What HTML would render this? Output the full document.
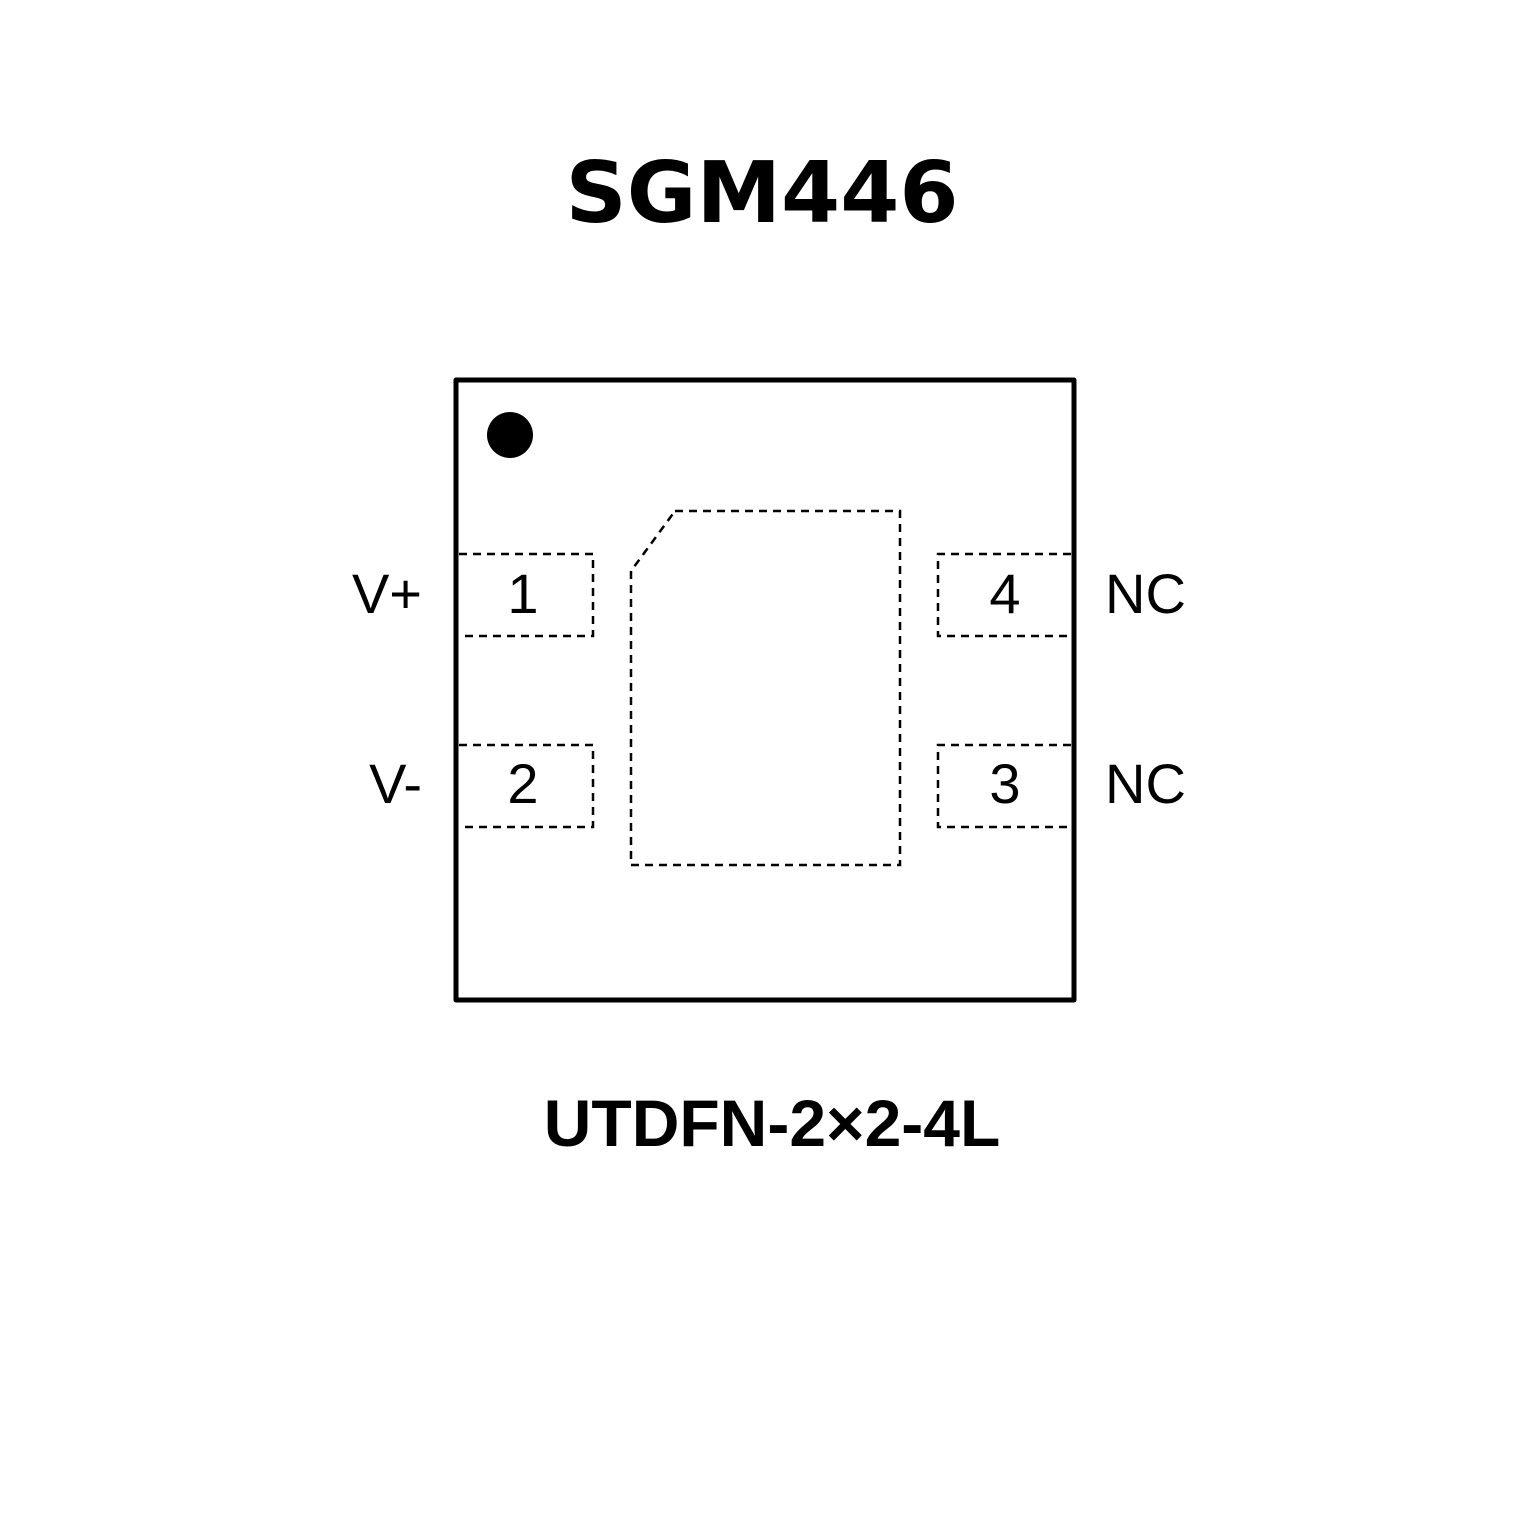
<!DOCTYPE html>
<html><head><style>html,body{margin:0;padding:0;background:#fff}</style></head>
<body>
<svg width="1535" height="1535" viewBox="0 0 1535 1535" xmlns="http://www.w3.org/2000/svg">
<rect width="1535" height="1535" fill="#fff"/>
<text x="762" y="222" text-anchor="middle" font-family="DejaVu Sans, Liberation Sans, sans-serif" font-weight="bold" font-size="85">SGM446</text>
<rect x="456" y="380" width="618" height="620" fill="none" stroke="#000" stroke-width="5" stroke-linejoin="round"/>
<circle cx="510" cy="435" r="23" fill="#000"/>
<g fill="none" stroke="#000" stroke-width="2.5" stroke-dasharray="8,6">
<polyline points="459,554 593,554 593,636 459,636"/>
<polyline points="459,745 593,745 593,827 459,827"/>
<polyline points="1071,554 938,554 938,636 1071,636"/>
<polyline points="1071,745 938,745 938,827 1071,827"/>
<polygon points="675,511 900,511 900,865 631,865 631,571"/>
</g>
<g font-family="Liberation Sans, sans-serif" font-size="56">
<text x="523" y="613" text-anchor="middle">1</text>
<text x="523" y="803" text-anchor="middle">2</text>
<text x="1005" y="613" text-anchor="middle">4</text>
<text x="1005" y="803" text-anchor="middle">3</text>
<text x="422" y="613" text-anchor="end">V+</text>
<text x="422" y="803" text-anchor="end">V-</text>
<text x="1105" y="613">NC</text>
<text x="1105" y="803">NC</text>
</g>
<text x="772" y="1146" text-anchor="middle" font-family="Liberation Sans, sans-serif" font-weight="bold" font-size="66">UTDFN-2×2-4L</text>
</svg>
</body></html>
